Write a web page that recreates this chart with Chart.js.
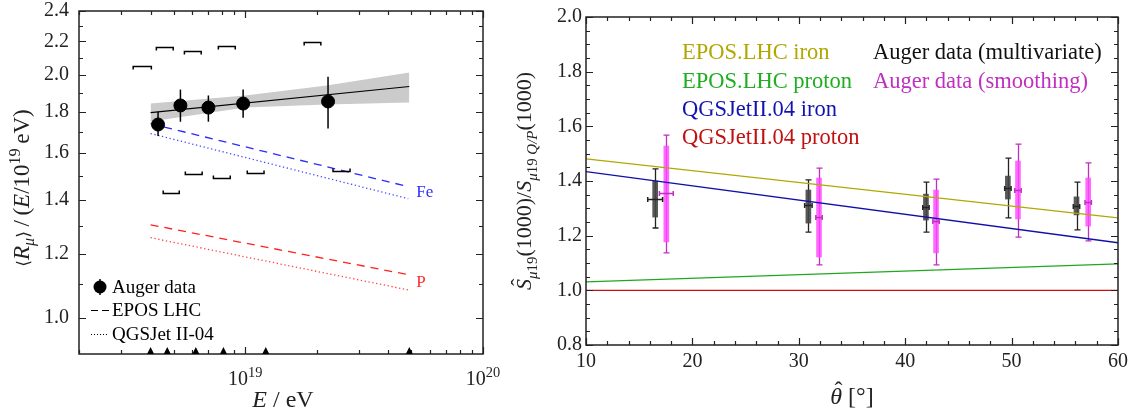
<!DOCTYPE html>
<html>
<head>
<meta charset="utf-8">
<script src="https://cdn.jsdelivr.net/npm/chart.js@4.4.0/dist/chart.umd.min.js"></script>
<style>
    body { margin: 0; background: #fff; width: 1136px; height: 416px; overflow: hidden; position: relative; }
    #leftBox { position: absolute; left: 0; top: 0; width: 520px; height: 416px; }
    #rightBox { position: absolute; left: 500px; top: 0; width: 636px; height: 416px; }
</style>
</head>
<body>
<div id="leftBox"><canvas id="muonChart"></canvas></div>
<div id="rightBox"><canvas id="ratioChart"></canvas></div>
<script>
// ---- left panel: muon content vs energy ----
const muE    = [4.30e18, 5.34e18, 7.0e18, 9.8e18, 2.23e19];
const muR    = [1.736, 1.833, 1.822, 1.843, 1.854];
const muRHi  = [1.800, 1.918, 1.886, 1.918, 1.990];
const muRLo  = [1.680, 1.750, 1.750, 1.770, 1.716];

const fitE   = [4.0e18, 4.9e19];
const fitR   = [1.796, 1.935];
const bandE  = [4.0e18, 1.0e19, 2.2e19, 4.9e19];
const bandHi = [1.843, 1.886, 1.940, 2.014];
const bandLo = [1.751, 1.822, 1.838, 1.848];

const modelE = [4.0e18, 4.85e19];
const feEpos = [1.740, 1.454];
const feQgs  = [1.692, 1.405];
const pEpos  = [1.304, 1.131];
const pQgs   = [1.257, 1.083];

// systematic brackets
const sysHiE1 = [3.38e18, 4.23e18, 5.55e18, 7.71e18, 1.77e19];
const sysHiE2 = [4.03e18, 4.98e18, 6.53e18, 9.08e18, 2.08e19];
const sysHiR  = [2.049, 2.163, 2.144, 2.175, 2.195];
const sysLoE1 = [4.52e18, 5.60e18, 7.35e18, 1.02e19, 2.34e19];
const sysLoE2 = [5.28e18, 6.59e18, 8.65e18, 1.20e19, 2.76e19];
const sysLoR  = [1.429, 1.509, 1.492, 1.513, 1.522];

const binEdges = [4.0e18, 4.7e18, 6.2e18, 8.1e18, 1.22e19, 4.9e19];

const leftXMajor = [1e19, 1e20];
const leftXMinor = [2e18, 3e18, 4e18, 5e18, 6e18, 7e18, 8e18, 9e18, 2e19, 3e19, 4e19, 5e19, 6e19, 7e19, 8e19, 9e19];
const leftYMajor = [1.0, 1.2, 1.4, 1.6, 1.8, 2.0, 2.2, 2.4];
const leftYMinor = [1.1, 1.3, 1.5, 1.7, 1.9, 2.1, 2.3];

// ---- right panel: S ratio vs zenith ----
const thetaRange = [10, 60];
const eposIron   = [1.481, 1.265];
const eposProton = [1.031, 1.097];
const qgsIron    = [1.434, 1.174];
const qgsProton  = [1.000, 1.000];

const thetaMulti   = [16.5, 30.9, 41.95, 49.65, 56.1];
const multiVal     = [1.334, 1.312, 1.305, 1.374, 1.309];
const multiBoxLo   = [1.268, 1.246, 1.257, 1.334, 1.276];
const multiBoxHi   = [1.400, 1.367, 1.352, 1.418, 1.342];
const multiErrLo   = [1.228, 1.213, 1.213, 1.265, 1.221];
const multiErrHi   = [1.444, 1.404, 1.396, 1.484, 1.396];
const multiThErr   = [0.7, 0.35, 0.3, 0.3, 0.3];

const thetaSmooth  = [17.55, 31.9, 42.9, 50.6, 57.2];
const smoothVal    = [1.356, 1.268, 1.254, 1.367, 1.323];
const smoothBoxLo  = [1.177, 1.122, 1.137, 1.261, 1.235];
const smoothBoxHi  = [1.528, 1.411, 1.367, 1.473, 1.411];
const smoothErrLo  = [1.137, 1.093, 1.093, 1.195, 1.181];
const smoothErrHi  = [1.568, 1.447, 1.407, 1.535, 1.466];
const smoothThErr  = [0.65, 0.3, 0.3, 0.3, 0.3];

const rightXMajor = [10, 20, 30, 40, 50, 60];
const rightXMinor = [12, 14, 16, 18, 22, 24, 26, 28, 32, 34, 36, 38, 42, 44, 46, 48, 52, 54, 56, 58];
const rightYMajor = [0.8, 1.0, 1.2, 1.4, 1.6, 1.8, 2.0];
const rightYMinor = [0.85, 0.9, 0.95, 1.05, 1.1, 1.15, 1.25, 1.3, 1.35, 1.45, 1.5, 1.55, 1.65, 1.7, 1.75, 1.85, 1.9, 1.95];

const SERIF = '"Liberation Serif", "Times New Roman", serif';
const pts = (xs, ys) => xs.map((x, i) => ({ x: x, y: ys[i] }));

function richText(ctx, segs, x, y, size, color) {
    const parts = segs.map(s => {
        const fs = size * (s.sc || 1);
        const font = (s.it ? 'italic ' : '') + fs + 'px ' + (s.fam || SERIF);
        ctx.font = font;
        return Object.assign({}, s, { font: font, fs: fs, w: ctx.measureText(s.t).width });
    });
    const total = parts.reduce((a, p) => a + p.w, 0);
    let cx = x - total / 2;
    ctx.fillStyle = color;
    ctx.textBaseline = 'alphabetic';
    parts.forEach(p => {
        ctx.font = p.font;
        ctx.textAlign = 'left';
        const py = y + (p.dy || 0) * size;
        ctx.fillText(p.t, cx, py);
        if (p.hat) {
            ctx.font = p.fs + 'px ' + SERIF;
            ctx.textAlign = 'center';
            ctx.fillText('\u02C6', cx + p.w / 2 + p.fs * 0.1, py - p.fs * 0.25);
        }
        cx += p.w;
    });
}

function frameAndTicks(ctx, area, xs, ys, xMaj, xMin, yMaj, yMin) {
    ctx.save();
    ctx.strokeStyle = '#222';
    ctx.lineWidth = 1.5;
    ctx.strokeRect(area.left, area.top, area.right - area.left, area.bottom - area.top);
    ctx.lineWidth = 1.2;
    const tx = (vals, len) => vals.forEach(v => {
        const p = Math.round(xs.getPixelForValue(v)) + 0.5;
        ctx.beginPath();
        ctx.moveTo(p, area.bottom); ctx.lineTo(p, area.bottom - len);
        ctx.moveTo(p, area.top); ctx.lineTo(p, area.top + len);
        ctx.stroke();
    });
    const ty = (vals, len) => vals.forEach(v => {
        const p = Math.round(ys.getPixelForValue(v)) + 0.5;
        ctx.beginPath();
        ctx.moveTo(area.left, p); ctx.lineTo(area.left + len, p);
        ctx.moveTo(area.right, p); ctx.lineTo(area.right - len, p);
        ctx.stroke();
    });
    tx(xMaj, 7); tx(xMin, 4);
    ty(yMaj, 7); ty(yMin, 4);
    ctx.restore();
}

const leftDecor = {
    id: 'leftDecor',
    afterDatasetsDraw(chart) {
        const ctx = chart.ctx;
        const xs = chart.scales.x, ys = chart.scales.y;
        ctx.save();
        // error bars
        ctx.strokeStyle = '#000';
        ctx.lineWidth = 1.5;
        muE.forEach((e, i) => {
            const px = xs.getPixelForValue(e);
            ctx.beginPath();
            ctx.moveTo(px, ys.getPixelForValue(muRHi[i]));
            ctx.lineTo(px, ys.getPixelForValue(muRLo[i]));
            ctx.stroke();
        });
        // systematic brackets
        const bracket = (e1, e2, r, dir) => {
            const x1 = xs.getPixelForValue(e1), x2 = xs.getPixelForValue(e2);
            const y = Math.round(ys.getPixelForValue(r)) + 0.5;
            ctx.beginPath();
            ctx.moveTo(x1, y + dir * 3); ctx.lineTo(x1, y);
            ctx.lineTo(x2, y); ctx.lineTo(x2, y + dir * 3);
            ctx.stroke();
        };
        sysHiR.forEach((r, i) => bracket(sysHiE1[i], sysHiE2[i], r, 1));
        sysLoR.forEach((r, i) => bracket(sysLoE1[i], sysLoE2[i], r, -1));
        ctx.restore();
    },
    afterDraw(chart) {
        const ctx = chart.ctx, a = chart.chartArea;
        const xs = chart.scales.x, ys = chart.scales.y;
        frameAndTicks(ctx, a, xs, ys, leftXMajor, leftXMinor, leftYMajor, leftYMinor);
        ctx.save();
        // bin edge triangles
        ctx.fillStyle = '#000';
        binEdges.forEach(e => {
            const px = xs.getPixelForValue(e);
            ctx.beginPath();
            ctx.moveTo(px - 3.5, a.bottom);
            ctx.lineTo(px + 3.5, a.bottom);
            ctx.lineTo(px, a.bottom - 7);
            ctx.closePath();
            ctx.fill();
        });
        // y tick labels
        ctx.font = '20px ' + SERIF;
        ctx.fillStyle = '#222';
        ctx.textAlign = 'right';
        ctx.textBaseline = 'middle';
        leftYMajor.forEach(v => ctx.fillText(v.toFixed(1), a.left - 10, ys.getPixelForValue(v)));
        // x tick labels (powers of ten)
        leftXMajor.forEach(v => {
            const p = Math.round(Math.log10(v));
            richText(ctx, [{ t: '10' }, { t: String(p), sc: 0.72, dy: -0.42 }],
                xs.getPixelForValue(v), a.bottom + 31, 20, '#222');
        });
        // Fe / P labels
        ctx.font = '17px ' + SERIF;
        ctx.textAlign = 'left';
        ctx.textBaseline = 'middle';
        const endX = xs.getPixelForValue(modelE[1]) + 8;
        ctx.fillStyle = '#3030ff';
        ctx.fillText('Fe', endX, (ys.getPixelForValue(feEpos[1]) + ys.getPixelForValue(feQgs[1])) / 2);
        ctx.fillStyle = '#ff2a2a';
        ctx.fillText('P', endX, (ys.getPixelForValue(pEpos[1]) + ys.getPixelForValue(pQgs[1])) / 2);
        // legend
        ctx.fillStyle = '#000';
        ctx.strokeStyle = '#000';
        ctx.beginPath(); ctx.arc(100, 287, 6.5, 0, Math.PI * 2); ctx.fill();
        ctx.lineWidth = 1.5;
        ctx.beginPath(); ctx.moveTo(100, 279); ctx.lineTo(100, 295); ctx.stroke();
        ctx.lineWidth = 1.2;
        ctx.beginPath(); ctx.moveTo(91, 310.5); ctx.lineTo(98, 310.5); ctx.moveTo(102, 310.5); ctx.lineTo(109, 310.5); ctx.stroke();
        ctx.setLineDash([1, 2]);
        ctx.beginPath(); ctx.moveTo(91, 334.5); ctx.lineTo(109, 334.5); ctx.stroke();
        ctx.setLineDash([]);
        ctx.font = '19px ' + SERIF;
        ctx.fillText('Auger data', 112, 288);
        ctx.fillText('EPOS LHC', 112, 311);
        ctx.fillText('QGSJet II-04', 112, 335);
        // axis titles
        richText(ctx, [{ t: 'E', it: true }, { t: ' / eV' }], (a.left + a.right) / 2 + 2, 407, 24, '#222');
        ctx.translate(29, 188);
        ctx.rotate(-Math.PI / 2);
        richText(ctx, [
            { t: '\u27E8', fam: '"DejaVu Sans"', sc: 0.75 }, { t: 'R', it: true }, { t: '\u03BC', it: true, sc: 0.7, dy: 0.22 },
            { t: '\u27E9', fam: '"DejaVu Sans"', sc: 0.75 },
            { t: '\u2009/\u2009(' }, { t: 'E', it: true }, { t: '/10' }, { t: '19', sc: 0.7, dy: -0.4 }, { t: '\u2009eV)' }
        ], 0, 0, 23, '#222');
        ctx.restore();
    }
};

new Chart(document.getElementById('muonChart'), {
    type: 'line',
    data: {
        datasets: [
            { data: pts(bandE, bandHi), borderWidth: 0, pointRadius: 0, fill: false, order: 10 },
            { data: pts(bandE, bandLo), borderWidth: 0, pointRadius: 0, fill: '-1', backgroundColor: '#cbcbcb', order: 9 },
            { data: pts(fitE, fitR), borderColor: '#000', borderWidth: 1.2, pointRadius: 0, order: 5 },
            { data: pts(modelE, feEpos), borderColor: '#2a2aff', borderWidth: 1.3, borderDash: [8, 6], pointRadius: 0, order: 5 },
            { data: pts(modelE, feQgs), borderColor: '#4a4aff', borderWidth: 1.3, borderDash: [1.3, 2.6], pointRadius: 0, order: 5 },
            { data: pts(modelE, pEpos), borderColor: '#ff2020', borderWidth: 1.3, borderDash: [8, 6], pointRadius: 0, order: 5 },
            { data: pts(modelE, pQgs), borderColor: '#ff4040', borderWidth: 1.3, borderDash: [1.3, 2.6], pointRadius: 0, order: 5 },
            { data: pts(muE, muR), showLine: false, pointRadius: 6.5, pointBackgroundColor: '#000', pointBorderColor: '#000', order: 1 }
        ]
    },
    options: {
        responsive: true,
        maintainAspectRatio: false,
        animation: false,
        layout: { padding: { left: 79, right: 37, top: 11, bottom: 62 } },
        plugins: { legend: { display: false }, tooltip: { enabled: false } },
        scales: {
            x: { type: 'logarithmic', min: 2e18, max: 1e20, display: false },
            y: { type: 'logarithmic', min: 0.902, max: 2.4, display: false }
        }
    },
    plugins: [leftDecor]
});

// ---- right chart ----
const rightDecor = {
    id: 'rightDecor',
    beforeDatasetsDraw(chart) {
        const ctx = chart.ctx, xs = chart.scales.x, ys = chart.scales.y;
        ctx.save();
        ctx.lineWidth = 1.3;
        const whisk = (th, lo, hi, color) => {
            ctx.strokeStyle = color;
            th.forEach((t, i) => {
                const px = Math.round(xs.getPixelForValue(t)) + 0.5;
                const y1 = ys.getPixelForValue(hi[i]), y2 = ys.getPixelForValue(lo[i]);
                ctx.beginPath();
                ctx.moveTo(px, y1); ctx.lineTo(px, y2);
                ctx.moveTo(px - 3, y1); ctx.lineTo(px + 3, y1);
                ctx.moveTo(px - 3, y2); ctx.lineTo(px + 3, y2);
                ctx.stroke();
            });
        };
        whisk(thetaMulti, multiErrLo, multiErrHi, '#222');
        whisk(thetaSmooth, smoothErrLo, smoothErrHi, '#c030c0');
        ctx.restore();
    },
    afterDatasetsDraw(chart) {
        const ctx = chart.ctx, xs = chart.scales.x, ys = chart.scales.y;
        ctx.save();
        ctx.lineWidth = 1.5;
        const hmark = (th, val, err, color) => {
            ctx.strokeStyle = color;
            th.forEach((t, i) => {
                const x1 = xs.getPixelForValue(t - err[i]), x2 = xs.getPixelForValue(t + err[i]);
                const py = Math.round(ys.getPixelForValue(val[i])) + 0.5;
                ctx.beginPath();
                ctx.moveTo(x1, py); ctx.lineTo(x2, py);
                ctx.moveTo(x1, py - 2.5); ctx.lineTo(x1, py + 2.5);
                ctx.moveTo(x2, py - 2.5); ctx.lineTo(x2, py + 2.5);
                ctx.stroke();
            });
        };
        hmark(thetaMulti, multiVal, multiThErr, '#222');
        hmark(thetaSmooth, smoothVal, smoothThErr, '#c030c0');
        ctx.restore();
    },
    afterDraw(chart) {
        const ctx = chart.ctx, a = chart.chartArea;
        const xs = chart.scales.x, ys = chart.scales.y;
        frameAndTicks(ctx, a, xs, ys, rightXMajor, rightXMinor, rightYMajor, rightYMinor);
        ctx.save();
        ctx.font = '20px ' + SERIF;
        ctx.fillStyle = '#222';
        ctx.textAlign = 'right';
        ctx.textBaseline = 'middle';
        rightYMajor.forEach(v => ctx.fillText(v.toFixed(1), a.left - 4, ys.getPixelForValue(v)));
        ctx.textAlign = 'center';
        ctx.textBaseline = 'top';
        rightXMajor.forEach(v => ctx.fillText(String(v), xs.getPixelForValue(v), a.bottom + 7));
        // legend text
        ctx.font = '22.5px ' + SERIF;
        ctx.textAlign = 'left';
        ctx.textBaseline = 'middle';
        const legend = [
            ['EPOS.LHC iron', '#b0a800', 182, 53],
            ['EPOS.LHC proton', '#1fae1f', 182, 82],
            ['QGSJetII.04 iron', '#1212b0', 182, 110],
            ['QGSJetII.04 proton', '#c01010', 182, 138],
            ['Auger data (multivariate)', '#111', 373, 53],
            ['Auger data (smoothing)', '#c030c0', 373, 82]
        ];
        legend.forEach(l => { ctx.fillStyle = l[1]; ctx.fillText(l[0], l[2], l[3]); });
        // axis titles
        richText(ctx, [{ t: '\u03B8', it: true, hat: true }, { t: ' [\u00B0]' }], (a.left + a.right) / 2, 404, 24, '#222');
        ctx.translate(31, (a.top + a.bottom) / 2);
        ctx.rotate(-Math.PI / 2);
        richText(ctx, [
            { t: 'S', it: true, hat: true }, { t: '\u03BC', it: true, sc: 0.68, dy: 0.25 }, { t: '19', sc: 0.68, dy: 0.25 },
            { t: '(1000)/' }, { t: 'S', it: true }, { t: '\u03BC', it: true, sc: 0.68, dy: 0.25 }, { t: '19 ', sc: 0.68, dy: 0.25 },
            { t: 'Q/P', it: true, sc: 0.68, dy: 0.25 }, { t: '(1000)' }
        ], 0, 0, 22, '#222');
        ctx.restore();
    }
};

new Chart(document.getElementById('ratioChart'), {
    type: 'line',
    data: {
        datasets: [
            { data: pts(thetaRange, eposIron), borderColor: '#b0a800', borderWidth: 1.3, pointRadius: 0, order: 2 },
            { data: pts(thetaRange, eposProton), borderColor: '#1fa81f', borderWidth: 1.3, pointRadius: 0, order: 2 },
            { data: pts(thetaRange, qgsIron), borderColor: '#1010a8', borderWidth: 1.3, pointRadius: 0, order: 2 },
            { data: pts(thetaRange, qgsProton), borderColor: '#c81010', borderWidth: 1.3, pointRadius: 0, order: 2 },
            {
                type: 'bar', grouped: false, barThickness: 5, order: 5,
                data: thetaMulti.map((t, i) => ({ x: t, y: [multiBoxLo[i], multiBoxHi[i]] })),
                backgroundColor: 'rgba(70,70,70,0.9)'
            },
            {
                type: 'bar', grouped: false, barThickness: 5, order: 5,
                data: thetaSmooth.map((t, i) => ({ x: t, y: [smoothBoxLo[i], smoothBoxHi[i]] })),
                backgroundColor: 'rgba(255,70,255,0.8)'
            }
        ]
    },
    options: {
        responsive: true,
        maintainAspectRatio: false,
        animation: false,
        layout: { padding: { left: 86, right: 18, top: 17, bottom: 71 } },
        plugins: { legend: { display: false }, tooltip: { enabled: false } },
        scales: {
            x: { type: 'linear', min: 10, max: 60, offset: false, display: false },
            y: { type: 'linear', min: 0.8, max: 2.0, display: false }
        }
    },
    plugins: [rightDecor]
});
</script>
</body>
</html>
